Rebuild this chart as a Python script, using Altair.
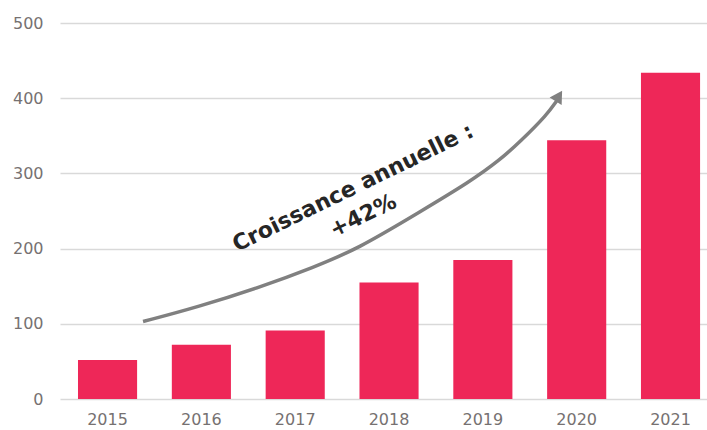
import altair as alt
import pandas as pd

years = ["2015", "2016", "2017", "2018", "2019", "2020", "2021"]
values = [52, 72, 91, 155, 185, 344, 434]

# growth arrow path (x in year-position units, y in value units)
arrow_x = [0.378, 0.954, 1.657, 2.190, 2.659, 3.331, 3.864, 4.183, 4.396, 4.684, 4.790]
arrow_y = [103, 122, 150, 175, 199, 249, 289, 318, 342, 378, 397]
head_x = [4.81]
head_y = [403]

label_lines = ["Croissance annuelle :", "+42%"]
label_x = [2.616, 2.723]
label_y = [281, 244]

bars_df = pd.DataFrame({"year": years, "value": values})
arrow_df = pd.DataFrame({"x": arrow_x, "y": arrow_y})
head_df = pd.DataFrame({"x": head_x, "y": head_y})
text_df = pd.DataFrame({"t": label_lines, "x": label_x, "y": label_y})

FONT = "DejaVu Sans"
GRAY = "#767171"

yscale = alt.Scale(domain=[0, 500], nice=False)
xq = alt.Scale(domain=[-0.5069, 6.3886], nice=False, zero=False)

bars = alt.Chart(bars_df).mark_bar(color="#EE2758").encode(
    x=alt.X("year:N", sort=years, title=None,
            scale=alt.Scale(paddingInner=0.37, paddingOuter=0.1328, align=0.722),
            axis=alt.Axis(labelAngle=0, labelFont=FONT, labelFontSize=16,
                          labelColor=GRAY, ticks=False, tickSize=0, domain=False,
                          labelPadding=12, grid=False)),
    y=alt.Y("value:Q", scale=yscale, title=None,
            axis=alt.Axis(values=[0, 100, 200, 300, 400, 500], labelFont=FONT,
                          labelFontSize=16, labelColor=GRAY, ticks=False, tickSize=0,
                          domain=False, labelPadding=17, gridColor="#D9D9D9",
                          gridWidth=1.5)),
)

arrow = alt.Chart(arrow_df).mark_line(color="#808080", strokeWidth=3.5,
                                      interpolate="basis").encode(
    x=alt.X("x:Q", scale=xq, axis=None),
    y=alt.Y("y:Q", scale=yscale, title=None),
)

head = alt.Chart(head_df).mark_point(shape="triangle-up", filled=True, size=200,
                                     color="#808080", opacity=1, angle=32).encode(
    x=alt.X("x:Q", scale=xq, axis=None),
    y=alt.Y("y:Q", scale=yscale, title=None),
)

texts = alt.Chart(text_df).mark_text(font=FONT, fontSize=22, fontWeight="bold",
                                     color="#262626", angle=334, align="center",
                                     baseline="middle").encode(
    x=alt.X("x:Q", scale=xq, axis=None),
    y=alt.Y("y:Q", scale=yscale, title=None),
    text="t:N",
)

chart = alt.layer(bars, arrow, head, texts).resolve_scale(x="independent").properties(
    width=647, height=376,
    autosize=alt.AutoSizeParams(type="none"),
    padding={"left": 60, "top": 23, "right": 0, "bottom": 31},
    background="white",
).configure_view(stroke=None)

chart.save("out.html", embed_options={"renderer": "svg", "actions": False})
